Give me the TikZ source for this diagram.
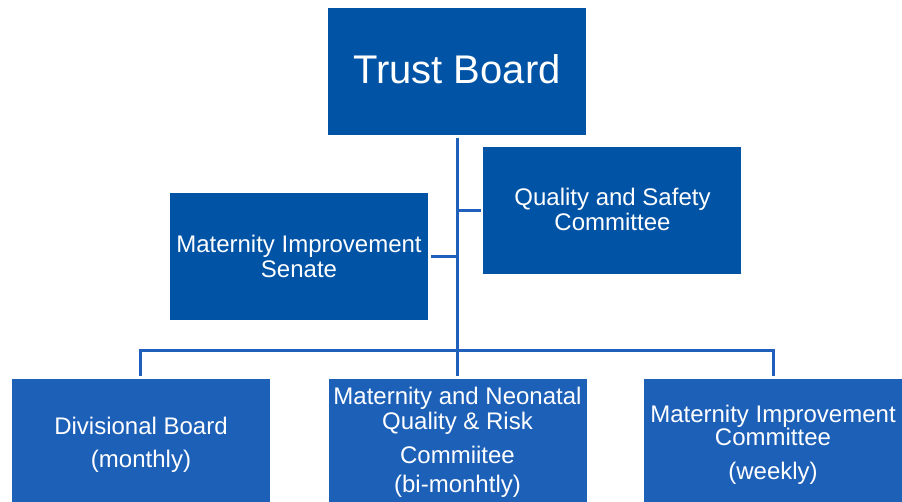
\documentclass[tikz,border=0pt]{standalone}
\usepackage{fontspec}
\setmainfont{Liberation Sans}
\definecolor{topblue}{RGB}{0,83,165}
\definecolor{botblue}{RGB}{29,96,184}
\definecolor{lineblue}{RGB}{32,96,188}
\begin{document}
\begin{tikzpicture}[x=1pt,y=-1pt,
  boxtop/.style={fill=topblue,draw=none,inner sep=0pt,outer sep=0pt,minimum width=258pt,minimum height=127pt,anchor=north west},
  boxbot/.style={fill=botblue,draw=none,inner sep=0pt,outer sep=0pt,minimum width=258pt,minimum height=130pt,anchor=north west},
  lbl/.style={text=white,inner sep=0pt,outer sep=0pt,anchor=base,font=\fontsize{24}{24}\selectfont},
  biglbl/.style={text=white,inner sep=0pt,outer sep=0pt,anchor=base,font=\fontsize{40}{40}\selectfont},
  conn/.style={draw=lineblue,line width=3pt}]
\clip (0,0) rectangle (902,502);
\fill[white] (0,0) rectangle (902,502);
% boxes
\node[boxtop] (tb)  at (328,8) {};
\node[boxtop] (qs)  at (483.3,146.7) {};
\node[boxtop] (mis) at (170,193.5) {};
\node[boxbot] (db)  at (11.7,379) {};
\node[boxbot] (mnq) at (328.5,379) {};
\node[boxbot] (mic) at (644,379) {};
% connectors
\coordinate (bus) at (457.5,350.5);
\draw[conn] ([yshift=-3pt]tb.south) -- (tb.south |- 0,376);
\draw[conn] (tb.south |- qs.west) -- ([xshift=-2pt]qs.west);
\draw[conn] ([xshift=3pt]mis.east) -- (tb.south |- mis.east);
\draw[conn] (db.north |- 0,376) -- (db.north |- bus) -- (mic.north |- bus) -- (mic.north |- 0,376);
% labels
\node[biglbl] (tbt) at (457,84) {Trust Board};
\node[lbl] (qs1) at (612.5,205.8) {Quality and Safety};
\node[lbl] (qs2) at (612.5,230.8) {Committee};
\node[lbl] (mis1) at (299,252.5) {Maternity Improvement};
\node[lbl] (mis2) at (299,277.5) {Senate};
\node[lbl] (db1) at (141,434) {Divisional Board};
\node[lbl] (db2) at (141,467.5) {(monthly)};
\node[lbl] (mnq1) at (457.5,404) {Maternity and Neonatal};
\node[lbl] (mnq2) at (457.5,429) {Quality \& Risk};
\node[lbl] (mnq3) at (457.5,463) {Commiitee};
\node[lbl] (mnq4) at (457.5,492.7) {(bi-monhtly)};
\node[lbl] (mic1) at (773,422.4) {Maternity Improvement};
\node[lbl] (mic2) at (773,445.8) {Committee};
\node[lbl] (mic3) at (773,479) {(weekly)};
\end{tikzpicture}
\end{document}
